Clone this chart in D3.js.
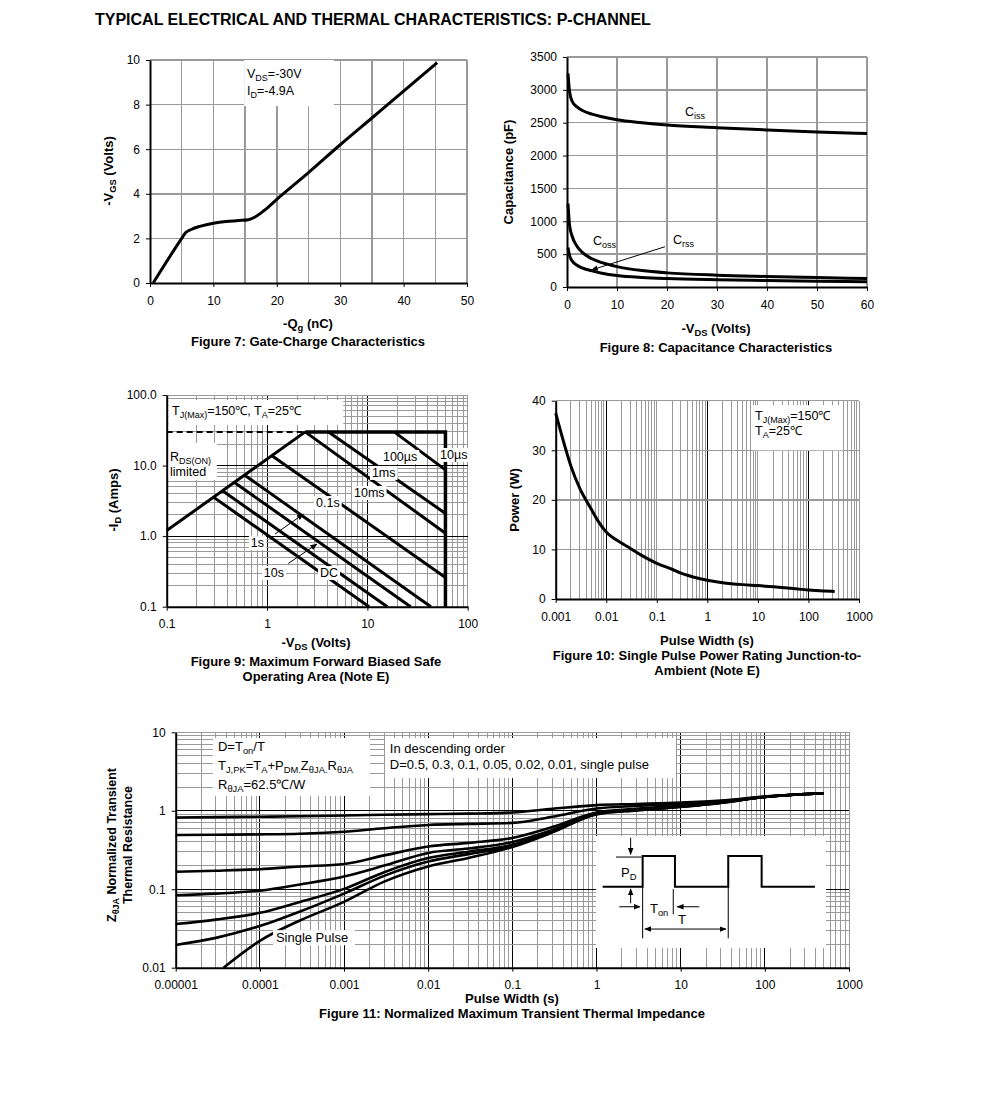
<!DOCTYPE html>
<html>
<head>
<meta charset="utf-8">
<script src="https://cdn.jsdelivr.net/npm/d3@7"></script>
<style>
  body { margin: 0; background: #fff; }
  svg { display: block; font-family: "Liberation Sans", Arial, Helvetica, sans-serif; }
</style>
</head>
<body>
<svg id="chart" width="991" height="1093"></svg>
<script>
const TITLE = "TYPICAL ELECTRICAL AND THERMAL CHARACTERISTICS: P-CHANNEL";

// Figure 7: gate charge
const gcQg  = [0.5, 5, 5.6, 6.5, 8, 10, 12, 14, 15.5, 16.5, 18, 20, 25, 30, 35, 40, 45.3];
const gcVgs = [0, 2.0, 2.25, 2.4, 2.55, 2.68, 2.76, 2.8, 2.84, 2.95, 3.25, 3.75, 4.95, 6.2, 7.4, 8.6, 9.88];
const gcXTicks = [0, 10, 20, 30, 40, 50];
const gcYTicks = [0, 2, 4, 6, 8, 10];
const gcXGrid = [5, 10, 15, 20, 25, 30, 35, 40, 45, 50];

// Figure 8: capacitance
const capVds  = [0.2, 0.5, 1, 2, 3, 5, 7, 10, 15, 20, 30, 40, 50, 60];
const capCiss = [3250, 2980, 2830, 2740, 2690, 2630, 2590, 2545, 2500, 2465, 2425, 2390, 2360, 2335];
const capCoss = [1270, 950, 780, 620, 530, 430, 370, 310, 250, 215, 180, 160, 143, 128];
const capCrss = [600, 480, 400, 330, 290, 245, 210, 175, 145, 128, 110, 98, 88, 80];
const capXTicks = [0, 10, 20, 30, 40, 50, 60];
const capYTicks = [0, 500, 1000, 1500, 2000, 2500, 3000, 3500];

// Figure 9: safe operating area
const soaRdsV = [0.1, 2.4];
const soaRdsI = [1.2, 30];
const soaBoundV = [2.4, 60, 60];
const soaBoundI = [30, 30, 0.1];
const soaV0 = [18.5, 4.1, 2.4, 1.12, 0.6, 0.47, 0.36, 0.29];
const soaI0 = [30, 30, 30, 13.8, 7.3, 5.8, 4.4, 3.6];
const soaV1 = [60, 60, 60, 60, 43, 27, 15.8, 10.4];
const soaI1 = [8.7, 2.1, 1.1, 0.26, 0.1, 0.1, 0.1, 0.1];
const soaLabelText = ["10µs", "100µs", "1ms", "10ms", "0.1s", "1s", "10s", "DC"];
const soaLabelV = [53, 14.3, 11.1, 7.36, 3.08, 0.69, 0.93, 3.37];
const soaLabelI = [12.4, 11.6, 6.9, 3.58, 2.58, 0.70, 0.263, 0.263];
const soaTicks = [0.1, 1, 10, 100];

// Figure 10: single pulse power
const ppWidth = [0.001, 0.0015, 0.002, 0.003, 0.005, 0.007, 0.01, 0.02, 0.03, 0.05, 0.1, 0.2, 0.3, 0.5, 1, 2, 5, 10, 20, 50, 100, 200, 330];
const ppPower = [37.5, 31, 26.8, 22.3, 18.2, 15.6, 13.5, 11.3, 10.2, 8.8, 7.2, 6.0, 5.2, 4.5, 3.8, 3.3, 2.9, 2.7, 2.45, 2.1, 1.82, 1.62, 1.52];
const ppXTicks = [0.001, 0.01, 0.1, 1, 10, 100, 1000];
const ppYTicks = [0, 10, 20, 30, 40];

// Figure 11: transient thermal impedance
const zthT = [1e-5, 3e-5, 1e-4, 3e-4, 1e-3, 3e-3, 1e-2, 3e-2, 0.1, 0.3, 1, 3, 10, 30, 100, 500];
const zthD05  = [0.82, 0.83, 0.84, 0.85, 0.87, 0.89, 0.905, 0.92, 0.95, 1.06, 1.18, 1.22, 1.27, 1.35, 1.52, 1.67];
const zthD03  = [0.49, 0.495, 0.50, 0.51, 0.54, 0.60, 0.66, 0.68, 0.70, 0.84, 1.07, 1.15, 1.22, 1.32, 1.51, 1.67];
const zthD01  = [0.167, 0.172, 0.18, 0.195, 0.21, 0.27, 0.35, 0.39, 0.45, 0.62, 0.95, 1.06, 1.16, 1.28, 1.50, 1.67];
const zthD005 = [0.084, 0.088, 0.096, 0.115, 0.145, 0.20, 0.29, 0.33, 0.40, 0.57, 0.93, 1.04, 1.14, 1.27, 1.50, 1.67];
const zthD002 = [0.036, 0.041, 0.050, 0.069, 0.101, 0.165, 0.25, 0.30, 0.37, 0.55, 0.92, 1.03, 1.13, 1.27, 1.50, 1.67];
const zthD001 = [0.0195, 0.024, 0.034, 0.052, 0.088, 0.148, 0.225, 0.28, 0.355, 0.54, 0.91, 1.02, 1.13, 1.27, 1.50, 1.67];
const zthSingleT = [3.7e-5, 1e-4, 3e-4, 1e-3, 3e-3, 1e-2, 3e-2, 0.1, 0.3, 1, 3, 10, 30, 100, 500];
const zthSingle  = [0.01, 0.022, 0.040, 0.069, 0.125, 0.195, 0.25, 0.345, 0.53, 0.90, 1.01, 1.12, 1.26, 1.50, 1.67];
const zthXTicks = [1e-5, 1e-4, 1e-3, 1e-2, 0.1, 1, 10, 100, 1000];
const zthYTicks = [0.01, 0.1, 1, 10];

const GRID = "#9a9a9a";
const svg = d3.select("#chart");
svg.append("rect").attr("width", 991).attr("height", 1093).attr("fill", "#fff");

svg.append("defs").append("marker")
  .attr("id", "arrow").attr("viewBox", "0 0 10 10")
  .attr("refX", 9).attr("refY", 5)
  .attr("markerWidth", 7).attr("markerHeight", 7)
  .attr("orient", "auto-start-reverse")
  .append("path").attr("d", "M0,1L10,5L0,9Z").attr("fill", "#000");

svg.append("text")
  .attr("x", 95).attr("y", 25)
  .attr("font-size", 16).attr("font-weight", "bold")
  .text(TITLE);

// text with subscripts: parts starting with "_" are subscript
function rich(g, x, y, parts, opts = {}) {
  const size = opts.size || 12;
  const t = g.append("text").attr("x", x).attr("y", y).attr("font-size", size);
  if (opts.anchor) t.attr("text-anchor", opts.anchor);
  if (opts.bold) t.attr("font-weight", "bold");
  let prevSub = false;
  parts.forEach(p => {
    const isSub = p.startsWith("_");
    const ts = t.append("tspan").text(isSub ? p.slice(1) : p);
    if (isSub) {
      ts.attr("font-size", size * 0.72);
      if (!prevSub) ts.attr("dy", 3);
    } else if (prevSub) {
      ts.attr("dy", -3);
    }
    prevSub = isSub;
  });
  return t;
}

function yTitle(x, y, parts) {
  const g = svg.append("g").attr("transform", `translate(${x},${y}) rotate(-90)`);
  rich(g, 0, 0, parts, { anchor: "middle", bold: true, size: 13 });
}

function logValues(lo, hi) {
  const out = [];
  for (let e = Math.floor(Math.log10(lo)); e <= Math.ceil(Math.log10(hi)); e++) {
    for (let k = 1; k < 10; k++) {
      const v = +(k * Math.pow(10, e)).toPrecision(4);
      if (v >= lo * 0.9999 && v <= hi * 1.0001) out.push({ v, k, e });
    }
  }
  return out;
}

function vGrid(g, x, y, vals, color, width) {
  const [yb, yt] = y.range();
  g.append("g").selectAll("line").data(vals).join("line")
    .attr("x1", d => x(d.v)).attr("x2", d => x(d.v))
    .attr("y1", yb).attr("y2", yt)
    .attr("stroke", color).attr("stroke-width", width)
    .attr("shape-rendering", "crispEdges");
}

function hGrid(g, x, y, vals, color, width) {
  const [xl, xr] = x.range();
  g.append("g").selectAll("line").data(vals).join("line")
    .attr("y1", d => y(d.v)).attr("y2", d => y(d.v))
    .attr("x1", xl).attr("x2", xr)
    .attr("stroke", color).attr("stroke-width", width)
    .attr("shape-rendering", "crispEdges");
}

function styleAxis(a) {
  a.attr("font-family", null).attr("font-size", 12);
  a.select(".domain").attr("stroke", "#000").attr("stroke-width", 2);
  a.selectAll(".tick line").attr("stroke", "#000");
  a.selectAll(".tick text").attr("fill", "#000");
}

function axes(g, x, y, xTicks, yTicks, xFmt, yFmt) {
  const ax = g.append("g").attr("transform", `translate(0,${y.range()[0]})`)
    .call(d3.axisBottom(x).tickValues(xTicks).tickFormat(xFmt)
      .tickSize(4).tickPadding(9).tickSizeOuter(0));
  styleAxis(ax);
  const ay = g.append("g").attr("transform", `translate(${x.range()[0]},0)`)
    .call(d3.axisLeft(y).tickValues(yTicks).tickFormat(yFmt)
      .tickSize(4).tickPadding(6).tickSizeOuter(0));
  styleAxis(ay);
}

function box(g, x, y, xa, xb, ya, yb) {
  g.append("rect")
    .attr("x", Math.min(x(xa), x(xb))).attr("y", Math.min(y(ya), y(yb)))
    .attr("width", Math.abs(x(xb) - x(xa))).attr("height", Math.abs(y(yb) - y(ya)))
    .attr("fill", "#fff");
}

function labelWithBg(g, x, y, text, size) {
  const t = g.append("text").attr("x", x).attr("y", y).attr("font-size", size).text(text);
  const b = t.node().getBBox();
  g.insert("rect", () => t.node())
    .attr("x", b.x - 2).attr("y", b.y).attr("width", b.width + 4).attr("height", b.height)
    .attr("fill", "#fff");
}

function caption(cx, y, lines) {
  lines.forEach((s, i) => {
    svg.append("text").attr("x", cx).attr("y", y + i * 15)
      .attr("text-anchor", "middle").attr("font-size", 13).attr("font-weight", "bold")
      .text(s);
  });
}

function xTitle(cx, y, parts) {
  rich(svg, cx, y, parts, { anchor: "middle", bold: true, size: 13 });
}

const fmt = d => String(d);

// ---------------- Figure 7 ----------------
{
  const x = d3.scaleLinear([0, 50], [150, 467]);
  const y = d3.scaleLinear([0, 10], [283, 60]);
  const g = svg.append("g");
  vGrid(g, x, y, gcXGrid.map(v => ({ v })), GRID, 1.4);
  hGrid(g, x, y, gcYTicks.slice(1).map(v => ({ v })), GRID, 1.4);
  box(g, x, y, 14.85, 29.0, 7.93, 10);
  axes(g, x, y, gcXTicks, gcYTicks, fmt, fmt);
  const line = d3.line().x((d, i) => x(gcQg[i])).y(d => y(d)).curve(d3.curveMonotoneX);
  g.append("path").attr("d", line(gcVgs)).attr("fill", "none")
    .attr("stroke", "#000").attr("stroke-width", 3);
  rich(g, x(15.3), y(9.2), ["V", "_DS", "=-30V"], { size: 12.5 });
  rich(g, x(15.3), y(8.43), ["I", "_D", "=-4.9A"], { size: 12.5 });
  yTitle(113, 171, ["-V", "_GS", " (Volts)"]);
  xTitle(308, 328, ["-Q", "_g", " (nC)"]);
  caption(308, 346, ["Figure 7: Gate-Charge Characteristics"]);
}

// ---------------- Figure 8 ----------------
{
  const x = d3.scaleLinear([0, 60], [567, 867]);
  const y = d3.scaleLinear([0, 3500], [287, 57]);
  const g = svg.append("g");
  vGrid(g, x, y, capXTicks.slice(1).map(v => ({ v })), GRID, 1.4);
  hGrid(g, x, y, capYTicks.slice(1).map(v => ({ v })), GRID, 1.4);
  axes(g, x, y, capXTicks, capYTicks, fmt, fmt);
  const line = d3.line().x((d, i) => x(capVds[i])).y(d => y(d)).curve(d3.curveMonotoneX);
  [capCiss, capCoss, capCrss].forEach(s => {
    g.append("path").attr("d", line(s)).attr("fill", "none")
      .attr("stroke", "#000").attr("stroke-width", 3);
  });
  rich(g, x(23.6), y(2600), ["C", "_iss"], { size: 12.5 });
  rich(g, x(5.2), y(640), ["C", "_oss"], { size: 12.5 });
  rich(g, x(21.2), y(655), ["C", "_rss"], { size: 12.5 });
  g.append("line")
    .attr("x1", x(19.6)).attr("y1", y(613)).attr("x2", x(4.9)).attr("y2", y(259))
    .attr("stroke", "#000").attr("stroke-width", 1).attr("marker-end", "url(#arrow)");
  yTitle(513, 172, ["Capacitance (pF)"]);
  xTitle(716, 333, ["-V", "_DS", " (Volts)"]);
  caption(716, 352, ["Figure 8: Capacitance Characteristics"]);
}

// ---------------- Figure 9 ----------------
{
  const x = d3.scaleLog([0.1, 100], [166.7, 467.7]);
  const y = d3.scaleLog([0.1, 100], [606.7, 395]);
  const g = svg.append("g");
  const xv = logValues(0.1, 100).filter(d => d.v > 0.1);
  const yv = logValues(0.1, 100).filter(d => d.v > 0.1);
  vGrid(g, x, y, xv.filter(d => !(d.k === 1 && d.v < 100)), GRID, 1);
  vGrid(g, x, y, xv.filter(d => d.k === 1 && d.v < 100), "#000", 1);
  hGrid(g, x, y, yv.filter(d => !(d.k === 1 && d.v < 100)), GRID, 1);
  hGrid(g, x, y, yv.filter(d => d.k === 1 && d.v < 100), "#000", 1);
  box(g, x, y, 0.104, 5.75, 85, 37.6);
  box(g, x, y, 0.1, 0.316, 20.9, 6.24);
  axes(g, x, y, soaTicks, soaTicks, fmt, d => d.toFixed(1));

  const lineLog = (vs, is) => d3.line()(vs.map((v, i) => [x(v), y(is[i])]));
  g.append("path").attr("d", lineLog([soaRdsV[0], soaRdsV[1]], [soaBoundI[0], soaBoundI[0]]))
    .attr("stroke", "#000").attr("stroke-width", 2).attr("stroke-dasharray", "6,4").attr("fill", "none");
  g.append("path").attr("d", lineLog(soaRdsV, soaRdsI))
    .attr("stroke", "#000").attr("stroke-width", 3).attr("fill", "none");
  g.append("path").attr("d", lineLog(soaBoundV, soaBoundI))
    .attr("stroke", "#000").attr("stroke-width", 3.5).attr("fill", "none");
  soaV0.forEach((v, i) => {
    g.append("path").attr("d", lineLog([v, soaV1[i]], [soaI0[i], soaI1[i]]))
      .attr("stroke", "#000").attr("stroke-width", 3).attr("fill", "none");
  });
  // leaders
  [[1.2, 1.07, 2.3, 2.05], [1.63, 0.41, 3.13, 0.77]].forEach(d => {
    g.append("line").attr("x1", x(d[0])).attr("y1", y(d[1])).attr("x2", x(d[2])).attr("y2", y(d[3]))
      .attr("stroke", "#000").attr("stroke-width", 1).attr("marker-end", "url(#arrow)");
  });
  soaLabelText.forEach((s, i) => labelWithBg(g, x(soaLabelV[i]), y(soaLabelI[i]), s, 12.5));

  rich(g, x(0.113), y(52), ["T", "_J(Max)", "=150℃, T", "_A", "=25℃"], { size: 12.5 });
  rich(g, x(0.108), y(11.6), ["R", "_DS(ON)"], { size: 12.5 });
  rich(g, x(0.108), y(7.1), ["limited"], { size: 12.5 });
  yTitle(118, 500, ["-I", "_D", " (Amps)"]);
  xTitle(316, 647, ["-V", "_DS", " (Volts)"]);
  caption(316, 666, ["Figure 9: Maximum Forward Biased Safe", "Operating Area (Note E)"]);
}

// ---------------- Figure 10 ----------------
{
  const x = d3.scaleLog([0.001, 1000], [555.7, 859]);
  const y = d3.scaleLinear([0, 40], [599, 400.7]);
  const g = svg.append("g");
  const xv = logValues(0.001, 1000).filter(d => d.v > 0.001);
  const dark = d => d.k === 1 && d.e % 2 === 0 && d.v < 1000;
  vGrid(g, x, y, xv.filter(d => !dark(d)), GRID, 1);
  vGrid(g, x, y, xv.filter(dark), "#000", 1);
  hGrid(g, x, y, ppYTicks.slice(1).map(v => ({ v })), GRID, 1.4);
  box(g, x, y, 8.0, 482, 39.1, 30.0);
  axes(g, x, y, ppXTicks, ppYTicks, fmt, fmt);
  const line = d3.line().x((d, i) => x(ppWidth[i])).y(d => y(d)).curve(d3.curveMonotoneX);
  g.append("path").attr("d", line(ppPower)).attr("fill", "none")
    .attr("stroke", "#000").attr("stroke-width", 3);
  rich(g, x(8.8), y(36.1), ["T", "_J(Max)", "=150℃"], { size: 12.5 });
  rich(g, x(8.8), y(33.1), ["T", "_A", "=25℃"], { size: 12.5 });
  yTitle(519, 500, ["Power (W)"]);
  xTitle(707, 645, ["Pulse Width (s)"]);
  caption(707, 660, ["Figure 10: Single Pulse Power Rating Junction-to-", "Ambient (Note E)"]);
}

// ---------------- Figure 11 ----------------
{
  const x = d3.scaleLog([1e-5, 1000], [175.7, 849]);
  const y = d3.scaleLog([0.01, 10], [967.7, 732.3]);
  const g = svg.append("g");
  const xv = logValues(1e-5, 1000).filter(d => d.v > 1e-5);
  const yv = logValues(0.01, 10).filter(d => d.v > 0.01);
  vGrid(g, x, y, xv.filter(d => !(d.k === 1 && d.v < 1000)), GRID, 1);
  vGrid(g, x, y, xv.filter(d => d.k === 1 && d.v < 1000), "#000", 1);
  hGrid(g, x, y, yv.filter(d => !(d.k === 1 && d.v < 10)), GRID, 1);
  hGrid(g, x, y, yv.filter(d => d.k === 1 && d.v < 10), "#000", 1);
  box(g, x, y, 2.77e-5, 2.03e-3, 8.46, 1.54);
  box(g, x, y, 3.07e-3, 8.8, 8.46, 2.61);
  axes(g, x, y, zthXTicks, zthYTicks, fmt, fmt);

  const line = d3.line().x(d => x(d[0])).y(d => y(d[1])).curve(d3.curveMonotoneX);
  [zthD05, zthD03, zthD01, zthD005, zthD002, zthD001].forEach(s => {
    g.append("path").attr("d", line(s.map((v, i) => [zthT[i], v]))).attr("fill", "none")
      .attr("stroke", "#000").attr("stroke-width", 2.6);
  });
  g.append("path").attr("d", line(zthSingle.map((v, i) => [zthSingleT[i], v]))).attr("fill", "none")
    .attr("stroke", "#000").attr("stroke-width", 2.6);

  box(g, x, y, 1.43e-4, 1.35e-3, 0.0301, 0.0194);
  rich(g, x(1.55e-4), y(0.0212), ["Single Pulse"], { size: 13 });

  rich(g, x(3.18e-5), y(5.78), ["D=T", "_on", "/T"], { size: 13 });
  rich(g, x(3.18e-5), y(3.30), ["T", "_J,PK", "=T", "_A", "+P", "_DM.", "Z", "_θJA.", "R", "_θJA"], { size: 13 });
  rich(g, x(3.18e-5), y(1.89), ["R", "_θJA", "=62.5℃/W"], { size: 13 });
  rich(g, x(3.5e-3), y(5.45), ["In descending order"], { size: 13 });
  rich(g, x(3.5e-3), y(3.40), ["D=0.5, 0.3, 0.1, 0.05, 0.02, 0.01, single pulse"], { size: 13 });

  // duty-cycle inset
  const bx0 = x(0.985), bx1 = x(532), by0 = y(0.476), by1 = y(0.0178);
  g.append("rect").attr("x", bx0).attr("y", by0).attr("width", bx1 - bx0).attr("height", by1 - by0).attr("fill", "#fff");
  const ix = d3.scaleLinear([0, 230], [bx0, bx1]);
  const iy = d3.scaleLinear([0, 112], [by0, by1]);
  const pulseX = [6.7, 46.7, 46.7, 79, 79, 132.3, 132.3, 165.7, 165.7, 219];
  const pulseY = [50.7, 50.7, 20, 20, 50.7, 50.7, 20, 20, 50.7, 50.7];
  g.append("path").attr("d", d3.line()(pulseX.map((v, i) => [ix(v), iy(pulseY[i])])))
    .attr("fill", "none").attr("stroke", "#000").attr("stroke-width", 2);
  const thin = [[20, 21, 45.7, 21, false], [46.7, 50.7, 46.7, 102.3, false], [77.3, 53, 77.3, 78.3, false],
                [132.3, 51, 132.3, 102.3, false],
                [34.7, 1.7, 34.7, 18.3, true], [34.7, 67.3, 34.7, 53, true],
                [23.3, 70.7, 44, 70.7, true], [103.3, 70.7, 81.3, 70.7, true]];
  thin.forEach(d => {
    const l = g.append("line").attr("x1", ix(d[0])).attr("y1", iy(d[1])).attr("x2", ix(d[2])).attr("y2", iy(d[3]))
      .attr("stroke", "#000").attr("stroke-width", 1);
    if (d[4]) l.attr("marker-end", "url(#arrow)");
  });
  g.append("line").attr("x1", ix(49)).attr("y1", iy(93)).attr("x2", ix(130)).attr("y2", iy(93))
    .attr("stroke", "#000").attr("stroke-width", 1)
    .attr("marker-start", "url(#arrow)").attr("marker-end", "url(#arrow)");
  rich(g, ix(25), iy(41), ["P", "_D"], { size: 13 });
  rich(g, ix(54), iy(77), ["T", "_on"], { size: 13 });
  rich(g, ix(82), iy(88), ["T"], { size: 13 });

  const yt = svg.append("g").attr("transform", "translate(116,845) rotate(-90)");
  rich(yt, 0, 0, ["Z", "_θJA", " Normalized Transient"], { anchor: "middle", bold: true, size: 12.5 });
  rich(yt, 0, 16, ["Thermal Resistance"], { anchor: "middle", bold: true, size: 12.5 });
  xTitle(512, 1003, ["Pulse Width (s)"]);
  caption(512, 1018, ["Figure 11: Normalized Maximum Transient Thermal Impedance"]);
}
</script>
</body>
</html>
